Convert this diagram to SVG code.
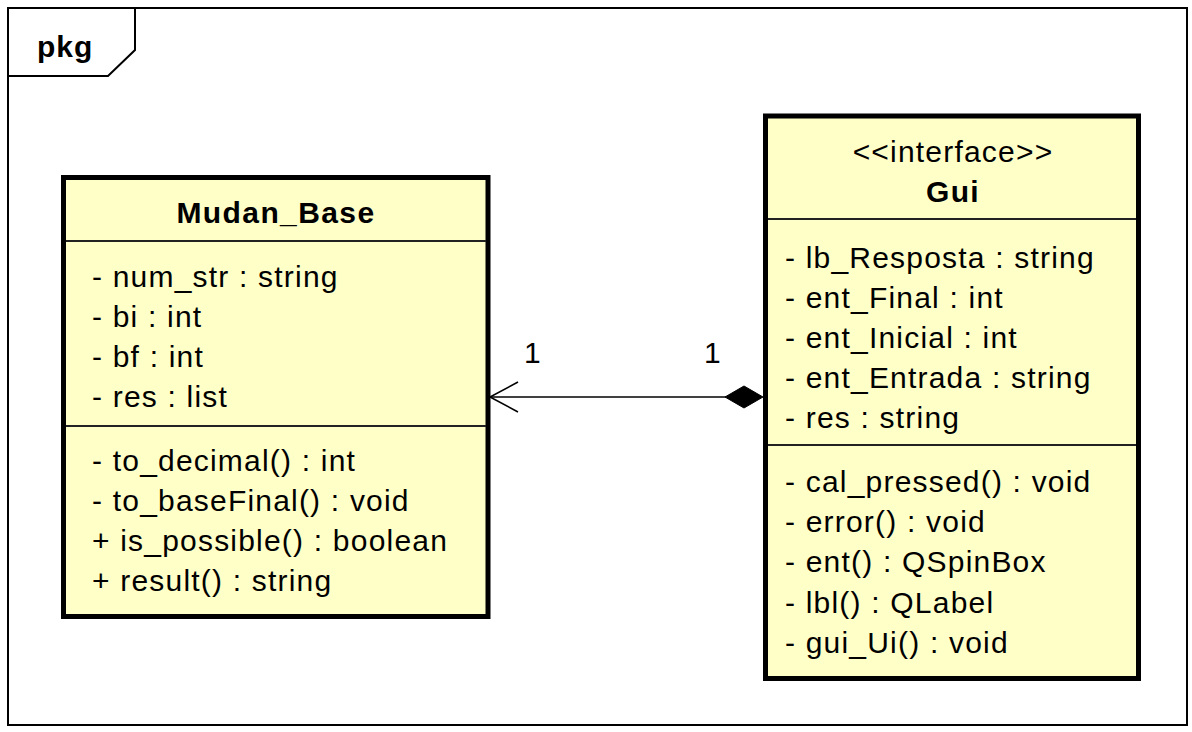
<svg xmlns="http://www.w3.org/2000/svg" width="1192" height="732" viewBox="0 0 1192 732">
<style>
text{font-family:Arial,"Liberation Sans",Helvetica,sans-serif;fill:#000;}
.m{font-size:30px;letter-spacing:1.2px;}
.t{font-size:30px;font-weight:bold;letter-spacing:1.4px;text-anchor:middle;}
.s{font-size:30px;letter-spacing:1.2px;text-anchor:middle;}
.box{fill:#FFFFC8;stroke:#000;stroke-width:5;}
.div{stroke:#222;stroke-width:2;}
.frame{fill:none;stroke:#000;stroke-width:2;}
</style>
<rect width="1192" height="732" fill="#fff"/>
<g id="frame">
<rect class="frame" x="8" y="8" width="1179" height="717"/>
<polyline class="frame" points="8,76 108,76 135,50 135,8"/>
<text x="37" y="57" style="font-size:30px;font-weight:bold;letter-spacing:1px">pkg</text>
</g>
<g id="connectors">
<line x1="490" y1="397" x2="726" y2="397" stroke="#000" stroke-width="1.6"/>
<polyline points="518,382 490,397 518,412" fill="none" stroke="#000" stroke-width="1.6"/>
<polygon points="763,397 744,386 725,397 744,408" fill="#000" stroke="#000" stroke-width="1"/>
<text class="s" x="533" y="363">1</text>
<text class="s" x="713" y="363">1</text>
</g>
<g id="Mudan_Base">
<rect class="box" x="63.5" y="177.5" width="424.5" height="439"/>
<line class="div" x1="66" y1="241" x2="486" y2="241"/>
<line class="div" x1="66" y1="426" x2="486" y2="426"/>
<text class="t" x="276" y="223">Mudan_Base</text>
<text class="m" x="92" y="287">- num_str : string</text>
<text class="m" x="92" y="327">- bi : int</text>
<text class="m" x="92" y="367">- bf : int</text>
<text class="m" x="92" y="407">- res : list</text>
<text class="m" x="92" y="471">- to_decimal() : int</text>
<text class="m" x="92" y="511">- to_baseFinal() : void</text>
<text class="m" x="92" y="551">+ is_possible() : boolean</text>
<text class="m" x="92" y="591">+ result() : string</text>
</g>
<g id="Gui">
<rect class="box" x="765.5" y="116" width="373" height="562.5"/>
<line class="div" x1="768" y1="219" x2="1136" y2="219"/>
<line class="div" x1="768" y1="445" x2="1136" y2="445"/>
<text class="s" x="953" y="162">&lt;&lt;interface&gt;&gt;</text>
<text class="t" x="953" y="202">Gui</text>
<text class="m" x="785" y="268">- lb_Resposta : string</text>
<text class="m" x="785" y="308">- ent_Final : int</text>
<text class="m" x="785" y="348">- ent_Inicial : int</text>
<text class="m" x="785" y="388">- ent_Entrada : string</text>
<text class="m" x="785" y="428">- res : string</text>
<text class="m" x="785" y="492">- cal_pressed() : void</text>
<text class="m" x="785" y="532">- error() : void</text>
<text class="m" x="785" y="572">- ent() : QSpinBox</text>
<text class="m" x="785" y="613">- lbl() : QLabel</text>
<text class="m" x="785" y="653">- gui_Ui() : void</text>
</g>
</svg>
